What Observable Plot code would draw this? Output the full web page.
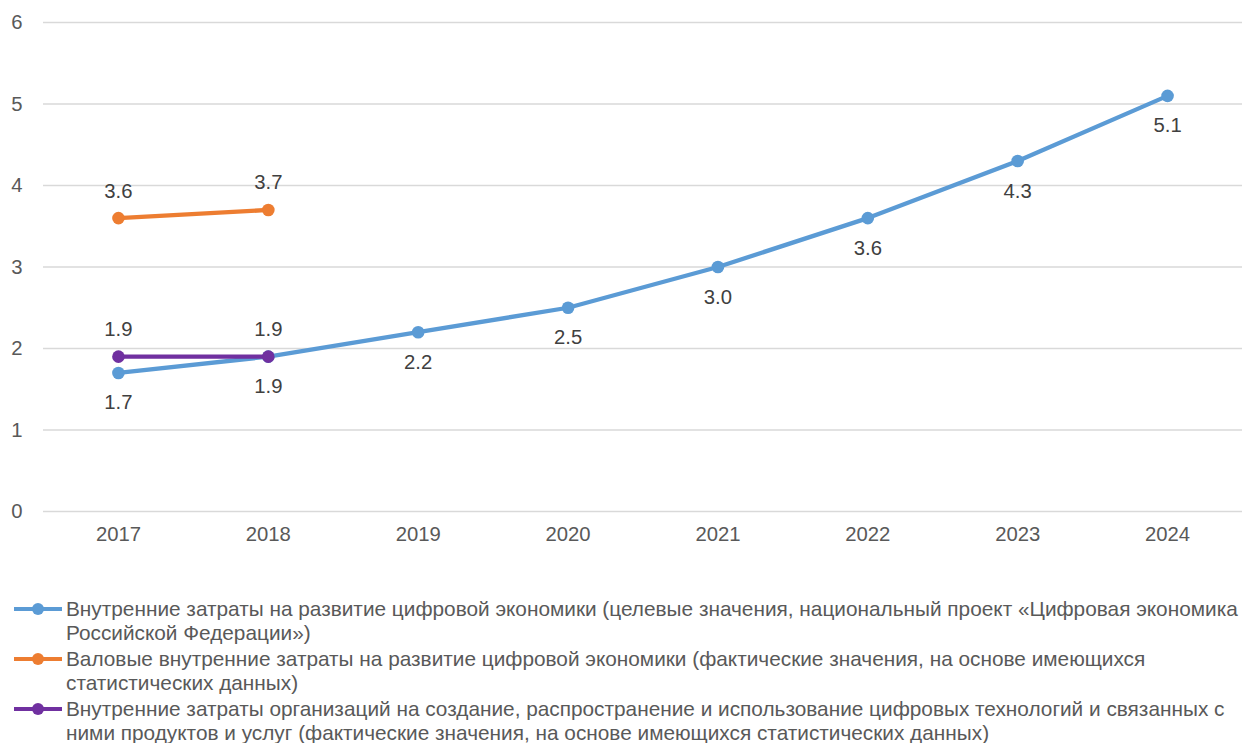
<!DOCTYPE html>
<html>
<head>
<meta charset="utf-8">
<script src="https://cdn.jsdelivr.net/npm/d3@7"></script>
<script src="https://cdn.jsdelivr.net/npm/@observablehq/plot@0.6"></script>
<style>
  html, body { margin: 0; padding: 0; background: #fff; }
  body { width: 1246px; height: 743px; overflow: hidden; font-family: "Liberation Sans", Arial, sans-serif; }
  #legend { margin-top: 37px; }
  .item { display: flex; align-items: flex-start; margin-bottom: 2px; }
  .swatch { width: 52px; height: 24px; flex: none; margin-left: 14px; }
  .txt { font-size: 20.8px; line-height: 24px; color: #595959; white-space: nowrap; }
</style>
</head>
<body>
<div id="chart"></div>
<div id="legend"></div>
<script>
const years = ["2017", "2018", "2019", "2020", "2021", "2022", "2023", "2024"];
const targetValues = [1.7, 1.9, 2.2, 2.5, 3.0, 3.6, 4.3, 5.1];
const grossYears = ["2017", "2018"];
const grossValues = [3.6, 3.7];
const orgYears = ["2017", "2018"];
const orgValues = [1.9, 1.9];
const yTicks = [0, 1, 2, 3, 4, 5, 6];

const seriesNames = [
  ["Внутренние затраты на развитие цифровой экономики (целевые значения, национальный проект «Цифровая экономика", "Российской Федерации»)"],
  ["Валовые внутренние затраты на развитие цифровой экономики (фактические значения, на основе имеющихся", "статистических данных)"],
  ["Внутренние затраты организаций на создание, распространение и использование цифровых технологий и связанных с", "ними продуктов и услуг (фактические значения, на основе имеющихся статистических данных)"]
];
const colors = ["#5B9BD5", "#ED7D31", "#7030A0"];

const target = years.map((y, i) => ({year: y, value: targetValues[i]}));
const gross = grossYears.map((y, i) => ({year: y, value: grossValues[i]}));
const org = orgYears.map((y, i) => ({year: y, value: orgValues[i]}));

const FS = 20.3;
const chart = Plot.plot({
  width: 1246,
  height: 560,
  marginTop: 22,
  marginBottom: 49,
  marginLeft: 43,
  marginRight: 4,
  style: {fontFamily: "Liberation Sans, Arial, sans-serif", fontSize: FS + "px", color: "#595959", background: "#fff"},
  x: {type: "point", domain: years, padding: 0.5, round: false, label: null},
  y: {domain: [0, 6], label: null},
  marks: [
    Plot.ruleY(yTicks, {stroke: "#d9d9d9", strokeWidth: 1.3}),
    Plot.axisY({ticks: yTicks, tickFormat: d => String(d), tickSize: 0, tickPadding: 21, label: null, fill: "#595959", fontSize: FS}),
    Plot.axisX({tickSize: 0, tickPadding: 15, label: null, fill: "#595959", fontSize: FS}),
    Plot.line(target, {x: "year", y: "value", stroke: colors[0], strokeWidth: 4.3}),
    Plot.dot(target, {x: "year", y: "value", fill: colors[0], r: 6.3}),
    Plot.text(target, {x: "year", y: "value", text: d => d.value.toFixed(1), dy: 30, fill: "#404040", fontSize: FS}),
    Plot.line(gross, {x: "year", y: "value", stroke: colors[1], strokeWidth: 4.3}),
    Plot.dot(gross, {x: "year", y: "value", fill: colors[1], r: 6.3}),
    Plot.text(gross, {x: "year", y: "value", text: d => d.value.toFixed(1), dy: -27, fill: "#404040", fontSize: FS}),
    Plot.line(org, {x: "year", y: "value", stroke: colors[2], strokeWidth: 4.3}),
    Plot.dot(org, {x: "year", y: "value", fill: colors[2], r: 6.3}),
    Plot.text(org, {x: "year", y: "value", text: d => d.value.toFixed(1), dy: -27, fill: "#404040", fontSize: FS})
  ]
});
document.getElementById("chart").appendChild(chart);

const legend = document.getElementById("legend");
seriesNames.forEach((lines, i) => {
  const item = document.createElement("div");
  item.className = "item";
  item.innerHTML = `<svg class="swatch" width="52" height="24"><line x1="0" x2="48" y1="12" y2="12" stroke="${colors[i]}" stroke-width="4"/><circle cx="24" cy="12" r="6" fill="${colors[i]}"/></svg>`;
  const t = document.createElement("div");
  t.className = "txt";
  lines.forEach((l, j) => {
    const s = document.createElement("div");
    s.textContent = l;
    t.appendChild(s);
  });
  item.appendChild(t);
  legend.appendChild(item);
});
</script>
</body>
</html>
